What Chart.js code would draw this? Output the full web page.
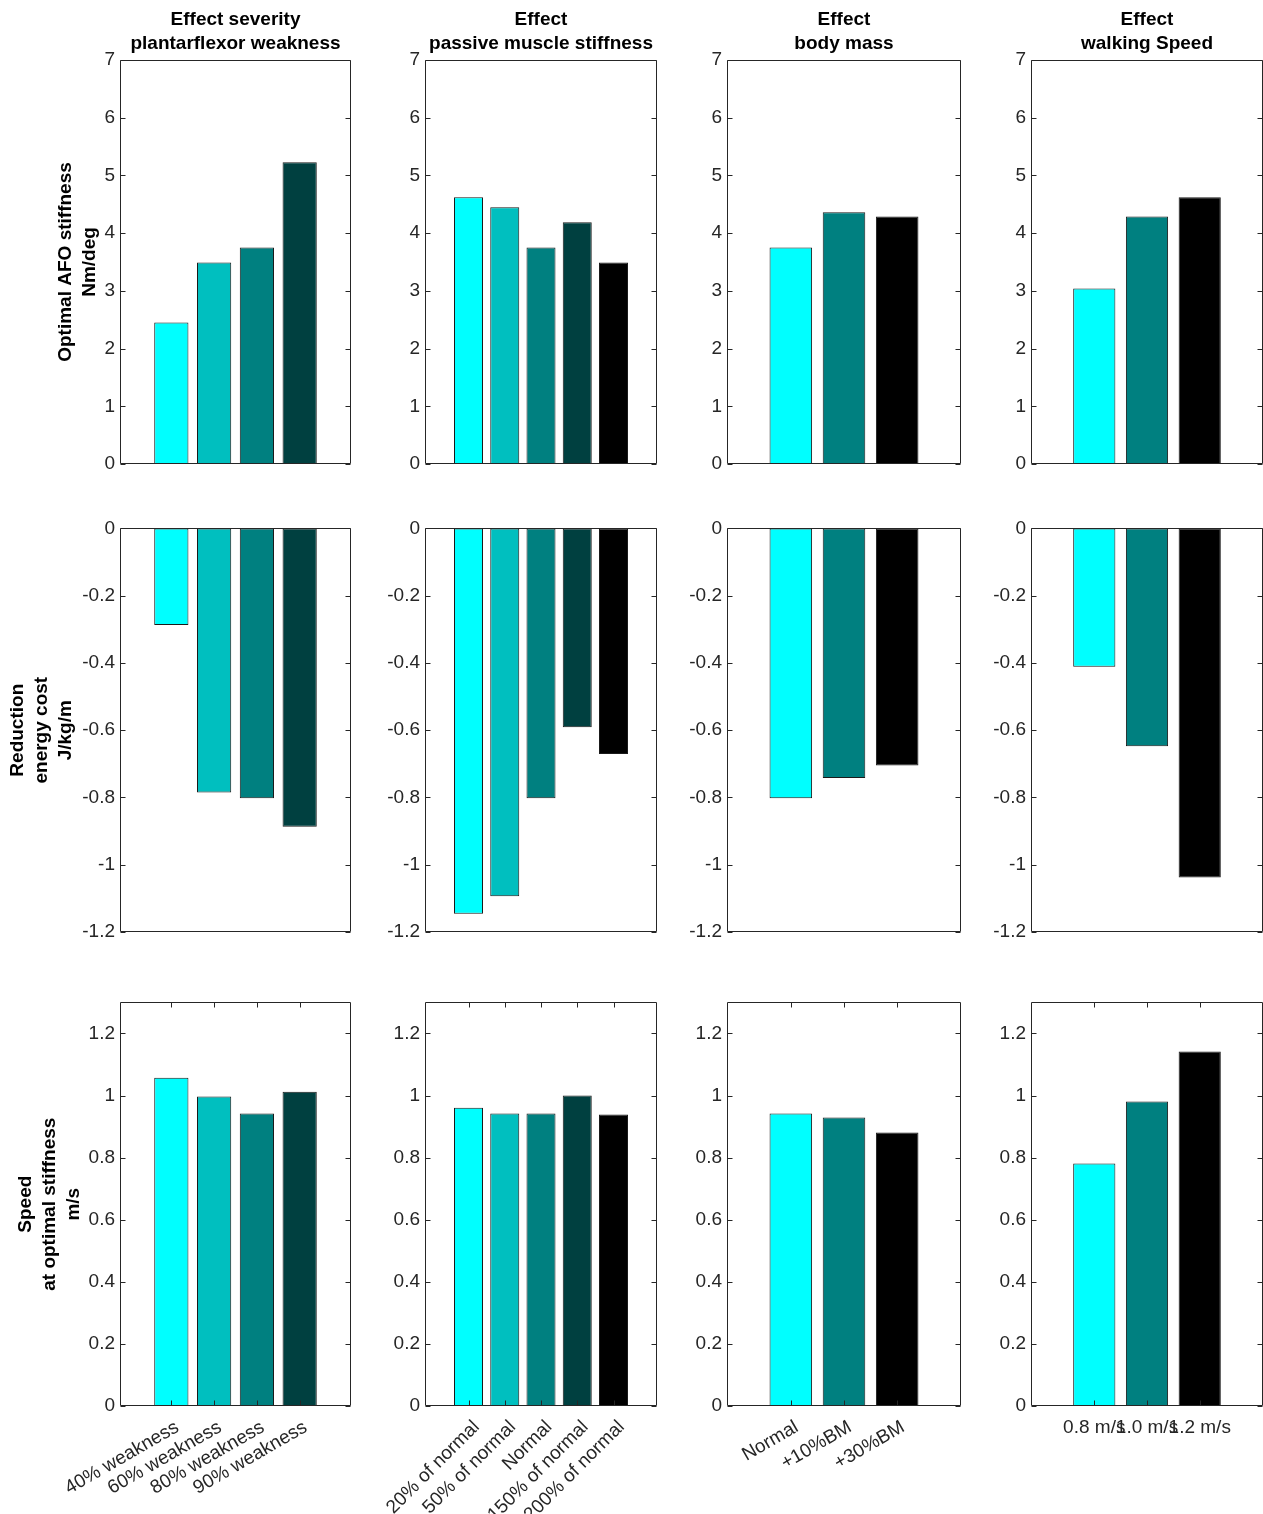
<!DOCTYPE html>
<html>
<head>
<meta charset="utf-8">
<script src="https://cdn.jsdelivr.net/npm/chart.js@4.4.1/dist/chart.umd.min.js"></script>
<style>
  html, body { margin: 0; padding: 0; background: #fff; }
  body { width: 1263px; height: 1514px; position: relative; overflow: hidden; }
  canvas { position: absolute; }
</style>
</head>
<body>
<script>
// categories
const weaknessLabels = ['40% weakness', '60% weakness', '80% weakness', '90% weakness'];
const stiffnessLabels = ['20% of normal', '50% of normal', 'Normal', '150% of normal', '200% of normal'];
const massLabels = ['Normal', '+10%BM', '+30%BM'];
const speedLabels = ['0.8 m/s', '1.0 m/s', '1.2 m/s'];

// optimal AFO stiffness (Nm/deg)
const afoWeakness = [2.45, 3.49, 3.75, 5.23];
const afoStiffness = [4.62, 4.45, 3.75, 4.19, 3.49];
const afoMass = [3.75, 4.36, 4.29];
const afoSpeed = [3.04, 4.29, 4.62];

// reduction energy cost (J/kg/m)
const costWeakness = [-0.287, -0.785, -0.802, -0.887];
const costStiffness = [-1.146, -1.094, -0.802, -0.591, -0.671];
const costMass = [-0.802, -0.742, -0.705];
const costSpeed = [-0.411, -0.648, -1.038];

// speed at optimal stiffness (m/s)
const speedWeakness = [1.057, 0.997, 0.942, 1.012];
const speedStiffness = [0.961, 0.942, 0.942, 1.0, 0.939];
const speedMass = [0.942, 0.929, 0.881];
const speedSpeed = [0.781, 0.981, 1.142];

// tick ranges per row
const yMin = [0, -1.2, 0];
const yMax = [7, 0, 1.3];
const yStep = [1, 0.2, 0.2];

const colTitles = [
  ['Effect severity', 'plantarflexor weakness'],
  ['Effect', 'passive muscle stiffness'],
  ['Effect', 'body mass'],
  ['Effect', 'walking Speed']
];
const rowTitles = [
  ['Optimal AFO stiffness', 'Nm/deg'],
  ['Reduction', 'energy cost', 'J/kg/m'],
  ['Speed', 'at optimal stiffness', 'm/s']
];

const colLabels = [weaknessLabels, stiffnessLabels, massLabels, speedLabels];
const rowValues = [
  [afoWeakness, afoStiffness, afoMass, afoSpeed],
  [costWeakness, costStiffness, costMass, costSpeed],
  [speedWeakness, speedStiffness, speedMass, speedSpeed]
];
const colColors = [
  ['#00ffff', '#00bfbf', '#008080', '#004040'],
  ['#00ffff', '#00bfbf', '#008080', '#004040', '#000000'],
  ['#00ffff', '#008080', '#000000'],
  ['#00ffff', '#008080', '#000000']
];

// layout of the plot boxes on the page
const plotLeft = [120, 425, 727, 1031];
const plotRight = [350, 656, 960, 1262];
const plotTop = [60, 527, 1001];
const plotBottom = [463, 931, 1405];
const labelRotation = [30, 45, 30, 0];
const labelShift = [6, 8, 6, 0];
const rowTitlePad = [54, 6, 14];

const FONT = '"Liberation Sans", Arial, Helvetica, sans-serif';
const AXIS = '#262626';

// matlab-like box with inward ticks
const axesBox = {
  id: 'axesBox',
  afterDatasetsDraw(chart, args, opts) {
    const { ctx, chartArea: a, scales: { x, y } } = chart;
    const L = Math.round(a.left) + 0.5;
    const R = Math.round(a.right) - 0.5;
    const T = Math.round(a.top) + 0.5;
    const B = Math.round(a.bottom) - 0.5;
    ctx.save();
    ctx.strokeStyle = AXIS;
    ctx.lineWidth = 1;
    ctx.beginPath();
    ctx.rect(L, T, R - L, B - T);
    y.ticks.forEach((t) => {
      const py = Math.round(y.getPixelForValue(t.value)) + 0.5;
      ctx.moveTo(L, py); ctx.lineTo(L + 5, py);
      ctx.moveTo(R, py); ctx.lineTo(R - 5, py);
    });
    if (opts.xTicks) {
      x.ticks.forEach((t) => {
        const px = Math.round(x.getPixelForValue(t.value)) + 0.5;
        ctx.moveTo(px, B); ctx.lineTo(px, B - 5);
        ctx.moveTo(px, T); ctx.lineTo(px, T + 5);
      });
    }
    ctx.stroke();
    ctx.restore();
  }
};

const fmt = (v) => String(Math.round(v * 10) / 10);

rowValues.forEach((row, r) => {
  row.forEach((values, c) => {
    const labels = colLabels[c];
    const n = values.length;
    const left = c === 0 ? 0 : plotLeft[c] - 65;
    const right = Math.min(plotRight[c] + 2, 1263);
    const top = r === 0 ? 0 : plotTop[r] - 15;
    const bottom = r === 2 ? 1514 : plotBottom[r] + 20;

    const canvas = document.createElement('canvas');
    canvas.width = right - left;
    canvas.height = bottom - top;
    canvas.style.left = left + 'px';
    canvas.style.top = top + 'px';
    document.body.appendChild(canvas);

    const yWidth = plotLeft[c] - left;
    const xHeight = bottom - (plotBottom[r] + 1);

    new Chart(canvas, {
      type: 'bar',
      data: {
        datasets: [{
          data: values.map((v, i) => ({ x: i, y: v })),
          backgroundColor: colColors[c],
          borderColor: '#1a1a1a',
          borderWidth: 1,
          borderSkipped: false,
          categoryPercentage: 1,
          barPercentage: 0.8
        }]
      },
      options: {
        responsive: false,
        animation: false,
        layout: {
          padding: { top: r === 0 ? 0 : 15, right: right - (plotRight[c] + 1), left: 0, bottom: 0 }
        },
        plugins: {
          legend: { display: false },
          tooltip: { enabled: false },
          title: {
            display: r === 0,
            text: colTitles[c],
            fullSize: false,
            color: '#000',
            font: { family: FONT, size: 19, weight: 'bold', lineHeight: '24px' },
            padding: { top: 8, bottom: 4 }
          },
          axesBox: { xTicks: r === 2 }
        },
        scales: {
          x: {
            type: 'linear',
            offset: false,
            min: -1.2,
            max: n + 0.2,
            grid: { display: false },
            border: { display: false },
            afterBuildTicks: (axis) => { axis.ticks = labels.map((_, i) => ({ value: i })); },
            afterFit: (axis) => { axis.height = xHeight; },
            ticks: {
              display: r === 2,
              autoSkip: false,
              minRotation: labelRotation[c],
              maxRotation: labelRotation[c],
              labelOffset: labelShift[c],
              padding: 2,
              color: AXIS,
              font: { family: FONT, size: 19 },
              callback: (v) => labels[v]
            }
          },
          y: {
            min: yMin[r],
            max: yMax[r],
            grid: { display: false, drawTicks: false },
            border: { display: false },
            afterFit: (axis) => { axis.width = yWidth; },
            title: {
              display: c === 0,
              text: rowTitles[r],
              color: '#000',
              font: { family: FONT, size: 19, weight: 'bold', lineHeight: '24px' },
              padding: { top: rowTitlePad[r], bottom: 0 }
            },
            ticks: {
              stepSize: yStep[r],
              includeBounds: false,
              padding: 5,
              color: AXIS,
              font: { family: FONT, size: 19 },
              callback: fmt
            }
          }
        }
      },
      plugins: [axesBox]
    });
  });
});
</script>
</body>
</html>
